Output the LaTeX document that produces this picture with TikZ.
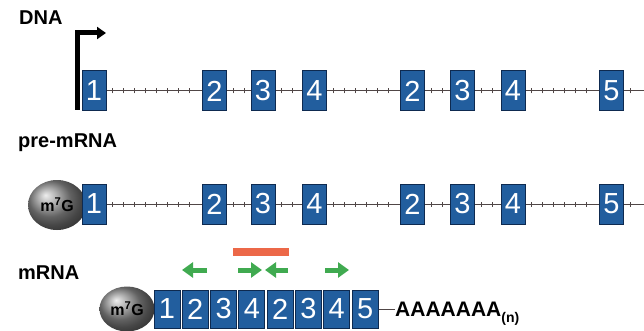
\documentclass[tikz,border=0pt]{standalone}
\usepackage{fontspec}
\setmainfont{Liberation Sans}
\usetikzlibrary{arrows.meta,decorations.markings,shapes.geometric}
\definecolor{exonblue}{RGB}{34,94,158}
\definecolor{exonedge}{RGB}{14,42,80}
\definecolor{introngray}{RGB}{80,70,70}
\definecolor{primergreen}{RGB}{64,170,80}
\definecolor{probered}{RGB}{236,104,72}
\tikzset{
  exon/.style={draw=exonedge, line width=1pt, fill=exonblue, text=white, inner sep=0pt,
    minimum width=24pt, minimum height=40pt, font=\fontsize{29}{29}\selectfont},
  mexon/.style={exon, minimum width=26pt, minimum height=38pt},
  intron/.style={draw=introngray, line width=1pt, postaction={decorate},
    decoration={markings, mark=between positions 6pt and -4pt step 11pt with
      {\draw[introngray, line width=0.8pt] (0,-2.5pt) -- (0,2.5pt);}}},
  capball/.style={ellipse, shading=ball, ball color=gray!90, inner sep=0pt,
    font=\bfseries\fontsize{16}{16}\selectfont},
  rowlabel/.style={anchor=base west, inner sep=0pt, font=\bfseries\fontsize{20}{20}\selectfont},
  primer/.style={draw=primergreen, line width=5pt, -{Triangle[length=11pt,width=15pt]}},
}
\begin{document}
\begin{tikzpicture}[x=1pt,y=-1pt]
    \useasboundingbox (0,0) rectangle (644,331);
    % row labels
    \node[rowlabel] (dnalabel) at (19,25) {DNA};
    \node[rowlabel] (prelabel) at (18,147) {pre-mRNA};
    \node[rowlabel] (mlabel) at (18,279) {mRNA};
    % DNA
    \foreach \n/\x/\t in {1/94/1,2/214.5/2,3/263/3,4/314.5/4,5/412.5/2,6/462.5/3,7/513/4,8/611.5/5}
        \node[exon] (d\n) at (\x,91) {\t};
    \coordinate (dend) at (644,91);
    \foreach \a/\b in {d1/d2,d2/d3,d3/d4,d4/d5,d5/d6,d6/d7,d7/d8,d8/dend}
        \draw[intron] (\a) -- (\b);
    \coordinate (tss) at (77,110);
    \draw[line width=5pt, -{Triangle[length=9pt,width=12pt]}] (tss) |- (106,33);
    % pre-mRNA
    \node[capball, minimum width=58pt, minimum height=50pt] (pcap) at (57,205) {m\textsuperscript{7}G};
    \foreach \n/\x/\t in {1/94/1,2/214.5/2,3/263/3,4/314.5/4,5/412.5/2,6/462.5/3,7/513/4,8/611.5/5}
        \node[exon] (p\n) at (\x,204) {\t};
    \coordinate (pend) at (644,204);
    \foreach \a/\b in {p1/p2,p2/p3,p3/p4,p4/p5,p5/p6,p6/p7,p7/p8,p8/pend}
        \draw[intron] (\a) -- (\b);
    % mRNA
    \node[capball, minimum width=55pt, minimum height=45pt] (mcap) at (127,309) {m\textsuperscript{7}G};
    \foreach \n/\t [evaluate=\n as \x using 167+28.3*(\n-1)] in {1/1,2/2,3/3,4/4,5/2,6/3,7/4,8/5}
        \node[mexon] (m\n) at (\x,309) {\t};
    \node[anchor=base west, inner sep=0pt, font=\bfseries\fontsize{21}{21}\selectfont] (tail) at (395,316)
        {AAAAAAA\raisebox{-6pt}{\fontsize{14}{14}\selectfont(n)}};
    \draw[introngray, line width=1pt] (m8.east) -- (m8.east -| tail.west);
    % primers and probe
    \draw[probered, line width=8pt] (233,252) -- (289,252);
    \draw[primer] (207,270) -- (182,270);
    \draw[primer] (238,270) -- (262,270);
    \draw[primer] (288,270) -- (265,270);
    \draw[primer] (325,270) -- (349,270);
\end{tikzpicture}
\end{document}
